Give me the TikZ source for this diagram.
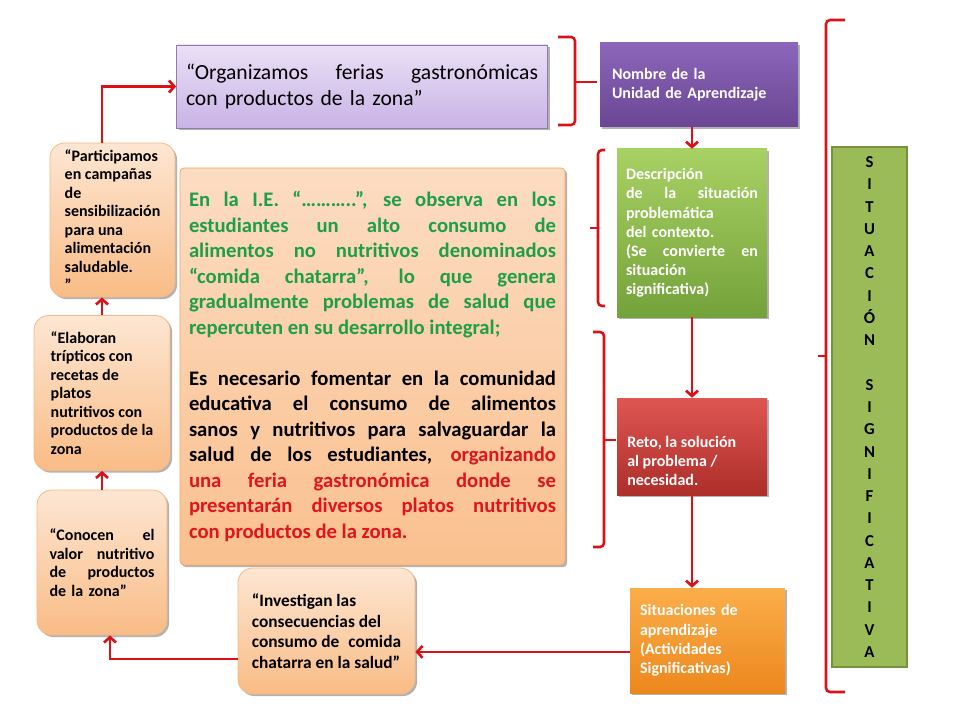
\documentclass[tikz,border=0pt]{standalone}
\usepackage{fontspec}
\setmainfont{Carlito}
\usetikzlibrary{arrows.meta,shadows}
\hyphenpenalty=10000
\exhyphenpenalty=10000
\definecolor{ared}{HTML}{DD1016}
\definecolor{peachT}{HTML}{FDE6D2}
\definecolor{peachB}{HTML}{F9BC86}
\definecolor{peachD}{HTML}{F6B886}
\definecolor{mainT}{HTML}{FCDCC2}
\definecolor{mainB}{HTML}{FAC08E}
\definecolor{mainD}{HTML}{F3A863}
\definecolor{lavT}{HTML}{EAE0F6}
\definecolor{lavB}{HTML}{C9B3E5}
\definecolor{lavD}{HTML}{8C7DAA}
\definecolor{purT}{HTML}{8C66BA}
\definecolor{purB}{HTML}{6A4694}
\definecolor{grnT}{HTML}{A8D164}
\definecolor{grnB}{HTML}{74A23A}
\definecolor{redT}{HTML}{DE5652}
\definecolor{redB}{HTML}{AE2E2A}
\definecolor{orgT}{HTML}{FBAE4A}
\definecolor{orgB}{HTML}{EC871C}
\definecolor{olive}{HTML}{9BBB59}
\definecolor{oliveD}{HTML}{76923C}
\definecolor{tgreen}{HTML}{1E9E48}
\definecolor{tred}{HTML}{E0151B}
\begin{document}
\begin{tikzpicture}[x=0.75pt,y=-0.75pt,
  conn/.style={draw=ared, line width=2pt, -{Straight Barb[length=4pt,width=9pt,line width=2pt]}},
  brk/.style={draw=ared, line width=1.9pt, rounded corners=3pt},
  shad/.style={drop shadow={shadow xshift=1.6pt,shadow yshift=-1.6pt,opacity=0.3,fill=black}},
  peach/.style={shad, rounded corners=11pt, top color=peachT, bottom color=peachB, draw=peachD, line width=0.6pt,
     font=\bfseries\fontsize{12}{13.9}\selectfont, text=black, inner sep=0pt},
  dark/.style={shad, draw=none, text=white, font=\bfseries\fontsize{12}{14.4}\selectfont, inner sep=0pt},
]
\useasboundingbox (0,0) rectangle (960,720);

% title
\node[shad, top color=lavT, bottom color=lavB, draw=lavD, line width=0.6pt,
      minimum width=278.25pt, minimum height=62.25pt, inner sep=0pt,
      text width=264pt, align=left, font=\fontsize{16.2}{20}\selectfont, text=black]
  (title) at (362,86.5) {“Organizamos\hfill ferias\hfill gastronómicas\\con productos de la zona”};

% main box
\node[shad, rounded corners=3pt, top color=mainT, bottom color=mainB, draw=mainD, line width=0.6pt,
      minimum width=288.75pt, minimum height=297.75pt, inner sep=0pt,
      text width=275.25pt, align=justify, font=\bfseries\fontsize{15.5}{19.1}\selectfont]
  (main) at (372.5,366.5) {{\color{tgreen}En la I.E. “………..”, se observa en los\linebreak
   estudiantes un alto consumo de\linebreak
   alimentos no nutritivos denominados\linebreak
   “comida chatarra”, lo que genera\linebreak
   gradualmente problemas de salud que\linebreak
   repercuten en su desarrollo integral;\par}
   \vspace{19.1pt}
   Es necesario fomentar en la comunidad\linebreak
   educativa el consumo de alimentos\linebreak
   sanos y nutritivos para salvaguardar la\linebreak
   salud de los estudiantes, {\color{tred}organizando\linebreak
   una feria gastronómica donde se\linebreak
   presentarán diversos platos nutritivos\linebreak
   con productos de la zona.}\par};

% left column
\node[peach, minimum width=93.75pt, minimum height=115.5pt, align=left]
  (part) at (112.5,220) {“Participamos\\en campañas\\de\\sensibilización\\para una\\alimentación\\saludable.\\”};
\node[peach, minimum width=102pt, minimum height=116.25pt, align=left]
  (elab) at (102,393) {“Elaboran\\trípticos con\\recetas de\\platos\\nutritivos con\\productos de la\\zona};
\node[peach, minimum width=97.5pt, minimum height=108.75pt, text width=78.75pt, align=left]
  (con) at (102,562.5) {“Conocen\hfill el\\valor\hfill nutritivo\\de\hfill productos\\de la zona”};
\node[peach, minimum width=132.75pt, minimum height=94.5pt, align=left,
      font=\bfseries\fontsize{13}{15.4}\selectfont]
  (inv) at (326.5,631) {“Investigan las\\consecuencias del\\consumo de\hspace{0.3em} comida\\chatarra en la salud”};

% right column
\node[dark, top color=purT, bottom color=purB, minimum width=148.5pt, minimum height=63pt,
      text width=130.5pt, align=left]
  (nom) at (699,85) {Nombre de la\\Unidad de Aprendizaje};
\node[dark, top color=grnT, bottom color=grnB, minimum width=112.5pt, minimum height=126pt,
      text width=99pt, align=left]
  (desc) at (692,233) {Descripción\\de\hfill la\hfill situación\\problemática\\del contexto.\\(Se\hfill convierte\hfill en\\situación\\significativa)};
\node[dark, top color=redT, bottom color=redB, minimum width=112.5pt, minimum height=72.75pt]
  (reto) at (692,446.5) {};
\node[text=white, font=\bfseries\fontsize{12}{14.4}\selectfont, align=left,
      inner sep=0pt, anchor=west]
  (retot) at (627,461) {Reto, la solución\\al problema /\\necesidad.};
\node[dark, top color=orgT, bottom color=orgB, minimum width=116.25pt, minimum height=78.75pt,
      text width=101.25pt, align=left]
  (sit) at (707.5,640.5) {Situaciones de\\aprendizaje\\(Actividades\\Significativas)};

% vertical box
\node[fill=olive, draw=oliveD, line width=1.5pt, minimum width=56.25pt, minimum height=390pt,
      inner sep=0pt, align=center, font=\bfseries\fontsize{12.5}{16.7}\selectfont]
  (sig) at (869.5,407) {S\\I\\T\\U\\A\\C\\I\\Ó\\N\\\mbox{}\\S\\I\\G\\N\\I\\F\\I\\C\\A\\T\\I\\V\\A};

% connectors
\draw[conn] (desc.north |- nom.south) -- (desc.north);
\draw[conn] (desc.south) -- (reto.north);
\draw[conn] (reto.south) -- (reto.south |- sit.north);
\coordinate (a1) at ([yshift=-8.5pt]sit.west);
\draw[conn] (a1) -- (a1 -| inv.east);
\coordinate (a2) at ([yshift=-21pt]inv.west);
\draw[conn] (a2) -| ([xshift=6pt]con.south);
\draw[conn] (con.north) -- (elab.south);
\draw[conn] (elab.north) -- (elab.north |- part.south);
\draw[conn] (part.north -| elab.north) |- (title.west);

% brackets
\draw[brk] (558,37) -- (575,37) -- (575,125) -- (558,125);
\draw[brk] (575,82) -- (597,82);
\draw[brk] (605,150) -- (598,150) -- (598,306) -- (605,306);
\draw[brk] (598,228) -- (590,228);
\draw[brk] (593,332) -- (604,332) -- (604,547) -- (593,547);
\draw[brk] (604,440) -- (616,440);
\draw[brk] (845,20) -- (826,20) -- (826,692) -- (845,692);
\draw[brk] (826,356) -- (818,356);
\end{tikzpicture}
\end{document}
